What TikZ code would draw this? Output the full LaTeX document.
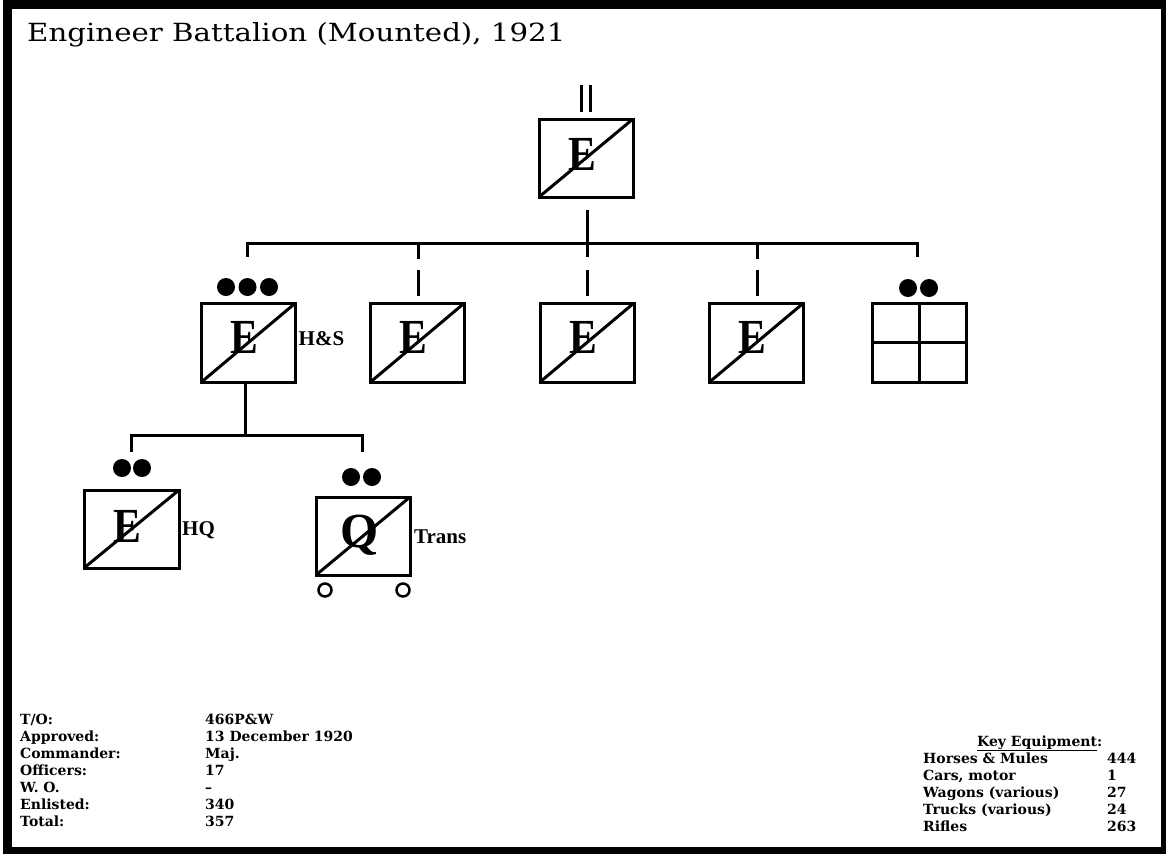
\documentclass[tikz,border=0pt]{standalone}
\usepackage{fontspec}
\setmainfont{Liberation Serif}
\newfontfamily\dvserif[Ligatures=TeX]{DejaVu Serif}
\usetikzlibrary{calc}
\tikzset{
  unitbox/.style={draw, line width=3pt, minimum width=94pt, minimum height=79pt, inner sep=0pt, outer sep=0pt},
  branch/.style={line width=3pt},
  letter/.style={font=\bfseries\fontsize{49}{49}\selectfont, inner sep=0pt, anchor=base},
  side/.style={font=\bfseries\fontsize{21}{21}\selectfont, inner sep=0pt, anchor=west},
  dot/.style={fill=black, circle, minimum size=18pt, inner sep=0pt},
  wheel/.style={draw, circle, line width=2.5pt, minimum size=13pt, inner sep=0pt},
  info/.style={font=\dvserif\bfseries\fontsize{14}{14}\selectfont, inner sep=0pt, anchor=base west},
  titletext/.style={font=\dvserif\fontsize{25}{25}\selectfont, inner sep=0pt, anchor=base west},
}
\begin{document}
\begin{tikzpicture}[x=1pt,y=-1pt]
\useasboundingbox (0,0) rectangle (1166,854);
% frame
\fill[black] (3,0) rectangle (1166,854);
\fill[white] (12,9) rectangle (1161,847);
% title
\node[titletext] (title) at (27,41) {\scalebox{1.17}[1]{Engineer Battalion (Mounted), 1921}};
% battalion
\node[unitbox, minimum height=78pt] (bn) at (586,158) {};
\draw[branch] (bn.south west) -- (bn.north east);
\node[letter] (bnL) at ($(bn)+(-4,12)$) {\scalebox{0.85}[1]{E}};
\coordinate (bs1a) at (581,85); \coordinate (bs1b) at (581,112);
\coordinate (bs2a) at (590,85); \coordinate (bs2b) at (590,112);
\draw[branch] (bs1a) -- (bs1b);
\draw[branch] (bs2a) -- (bs2b);
% companies
\foreach \n/\x in {c1/248.5, c2/417.5, c3/587, c4/756.5, c5/919}{
  \node[unitbox] (\n) at (\x,342.5) {};
}
\foreach \n in {c1,c2,c3,c4}{
  \draw[branch] (\n.south west) -- (\n.north east);
  \node[letter] (\n L) at ($(\n)+(-4,11)$) {\scalebox{0.85}[1]{E}};
}
\draw[branch] (c5.north) -- (c5.south);
\draw[branch] (c5.west) -- (c5.east);
\node[side] (hs) at ($(c1.east)+(3,-4)$) {H\&S};
% dots
\node[dot] (d1a) at (226,287) {};
\node[dot] (d1b) at (247.5,287) {};
\node[dot] (d1c) at (269,287) {};
\node[dot] (d5a) at (908,288) {};
\node[dot] (d5b) at (929,288) {};
% bar
\coordinate (topA) at (587,210); \coordinate (topB) at (587,257);
\coordinate (dropL) at (247,257); \coordinate (barL) at (247,243);
\coordinate (barR) at (917,243); \coordinate (dropR) at (917,257);
\draw[branch] (topA) -- (topB);
\draw[branch] (dropL) -- (barL) -- (barR) -- (dropR);
\coordinate (t2a) at (418,243); \coordinate (t2b) at (418,259);
\coordinate (t4a) at (757,243); \coordinate (t4b) at (757,259);
\draw[branch] (t2a) -- (t2b);
\draw[branch] (t4a) -- (t4b);
\coordinate (s2a) at (418,270); \coordinate (s2b) at (418,296);
\coordinate (s3a) at (587,270); \coordinate (s3b) at (587,296);
\coordinate (s4a) at (757,270); \coordinate (s4b) at (757,296);
\draw[branch] (s2a) -- (s2b);
\draw[branch] (s3a) -- (s3b);
\draw[branch] (s4a) -- (s4b);
% sub units
\node[unitbox, minimum width=95pt, minimum height=78pt] (hq) at (131.5,529) {};
\draw[branch] (hq.south west) -- (hq.north east);
\node[letter] (hqL) at ($(hq)+(-4,13)$) {\scalebox{0.85}[1]{E}};
\node[side] (hqT) at ($(hq.east)+(3,1)$) {HQ};
\node[unitbox, minimum height=78pt] (tr) at (363,536) {};
\draw[branch] (tr.south west) -- (tr.north east);
\node[letter] (trL) at ($(tr)+(-3,11)$) {Q};
\node[side] (trT) at ($(tr.east)+(4,1)$) {Trans};
\node[wheel] (w1) at (325,590) {};
\node[wheel] (w2) at (403,590) {};
\node[dot] (dqa) at (122,468) {};
\node[dot] (dqb) at (142,468) {};
\node[dot] (dta) at (351,477) {};
\node[dot] (dtb) at (372,477) {};
\coordinate (hsA) at (245,382); \coordinate (hsB) at (245,435);
\coordinate (sbL) at (131,435); \coordinate (sbLd) at (131,452);
\coordinate (sbR) at (362,435); \coordinate (sbRd) at (362,452);
\draw[branch] (hsA) -- (hsB);
\draw[branch] (sbLd) -- (sbL) -- (sbR) -- (sbRd);
% info block
\foreach \i/\a/\b in {0/T\slash O:/466P\&W, 1/Approved:/13 December 1920, 2/Commander:/Maj., 3/Officers:/17, 4/W. O./\textendash, 5/Enlisted:/340, 6/Total:/357}{
  \node[info] (lab\i) at (20,724+17*\i) {\a};
  \node[info] (val\i) at (205,724+17*\i) {\b};
}
\node[info] (keyhead) at (977,746) {\underline{Key Equipment}:};
\foreach \i/\a/\b in {0/Horses \& Mules/444, 1/{Cars, motor}/1, 2/Wagons (various)/27, 3/Trucks (various)/24, 4/Rifles/263}{
  \node[info] (eq\i) at (923,763+17*\i) {\a};
  \node[info] (eqn\i) at (1107,763+17*\i) {\b};
}
\end{tikzpicture}
\end{document}
